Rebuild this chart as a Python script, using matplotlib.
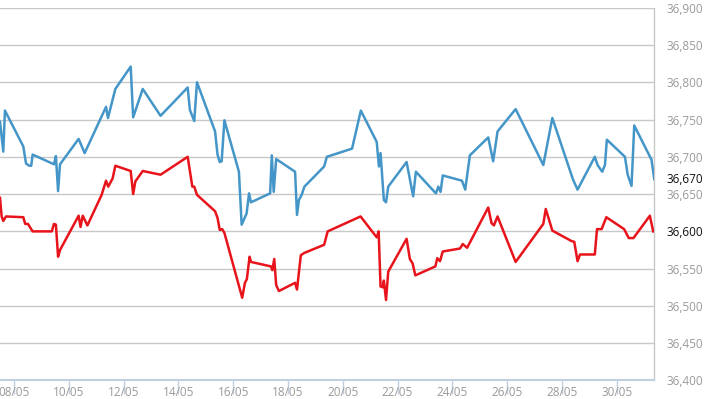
import matplotlib.pyplot as plt
import matplotlib.transforms as mtransforms
import numpy as np

# day of May (fractional) and price
blue_day = [7.49, 7.61, 7.67, 8.34, 8.44, 8.56, 8.63, 8.68, 9.46, 9.53, 9.61, 9.68,
            10.36, 10.58, 11.36, 11.43, 11.70, 12.26, 12.35, 12.70, 13.35, 14.34,
            14.42, 14.58, 14.68, 15.34, 15.43, 15.51, 15.58, 15.68, 16.21, 16.31,
            16.49, 16.58, 16.65, 17.35, 17.41, 17.48, 17.57, 18.26, 18.33, 18.40,
            18.50, 18.60, 19.32, 19.42, 20.34, 20.66, 21.24, 21.32, 21.38, 21.50,
            21.58, 21.66, 22.33, 22.57, 22.67, 23.40, 23.49, 23.57, 23.65, 24.35,
            24.47, 24.64, 25.31, 25.49, 25.65, 26.31, 27.32, 27.65, 28.29, 28.41,
            28.57, 29.20, 29.30, 29.47, 29.57, 29.64, 30.30, 30.40, 30.54, 30.64,
            31.27, 31.37]
blue_val = [36747, 36707, 36762, 36714, 36691, 36688, 36688, 36703, 36690, 36701, 36654, 36690,
            36724, 36705, 36767, 36752, 36791, 36821, 36753, 36791, 36755, 36793,
            36763, 36748, 36800, 36734, 36703, 36693, 36694, 36749, 36680, 36609,
            36624, 36651, 36639, 36651, 36702, 36653, 36697, 36680, 36622, 36642,
            36649, 36660, 36687, 36700, 36711, 36762, 36720, 36687, 36705, 36642,
            36639, 36660, 36693, 36647, 36680, 36651, 36660, 36653, 36675, 36668,
            36656, 36702, 36726, 36694, 36734, 36764, 36689, 36752, 36682, 36669,
            36656, 36700, 36689, 36680, 36689, 36723, 36700, 36676, 36661, 36742,
            36696, 36670]

red_day = [7.49, 7.55, 7.61, 7.71, 8.34, 8.41, 8.51, 8.68, 9.38, 9.46, 9.53, 9.61, 9.68,
           10.36, 10.43, 10.51, 10.68, 11.20, 11.36, 11.44, 11.60, 11.70, 12.26, 12.35,
           12.43, 12.70, 13.35, 14.34, 14.51, 14.58, 14.68, 15.34, 15.43, 15.51, 15.60,
           15.68, 16.33, 16.43, 16.50, 16.60, 16.65, 17.38, 17.43, 17.50, 17.57, 17.67,
           18.26, 18.33, 18.47, 18.59, 19.32, 19.45, 20.65, 21.24, 21.31, 21.38, 21.46,
           21.50, 21.58, 21.66, 22.33, 22.45, 22.55, 22.65, 23.38, 23.45, 23.55, 23.65,
           24.28, 24.38, 24.54, 25.31, 25.43, 25.52, 25.55, 25.65, 26.31, 27.32, 27.41,
           27.65, 28.35, 28.45, 28.57, 28.66, 29.20, 29.28, 29.45, 29.62, 30.27, 30.44,
           30.61, 31.21, 31.33]
red_val = [36645, 36620, 36614, 36620, 36619, 36610, 36610, 36600, 36600, 36610, 36609, 36566, 36575,
           36621, 36606, 36621, 36608, 36649, 36668, 36660, 36671, 36688, 36681, 36650,
           36667, 36681, 36676, 36700, 36660, 36660, 36649, 36627, 36618, 36602, 36603,
           36598, 36511, 36531, 36536, 36566, 36559, 36553, 36548, 36563, 36528, 36520,
           36531, 36522, 36568, 36571, 36582, 36600, 36620, 36592, 36600, 36526, 36525,
           36534, 36508, 36546, 36590, 36563, 36557, 36541, 36553, 36564, 36560, 36573,
           36577, 36583, 36578, 36632, 36611, 36608, 36611, 36620, 36559, 36610, 36630,
           36601, 36587, 36586, 36560, 36569, 36569, 36603, 36603, 36619, 36603, 36591,
           36591, 36621, 36600]

x_ticks = list(range(8, 31, 2))
x_labels = ['%02d/05' % d for d in x_ticks]
y_ticks = list(range(36400, 36901, 50))
last_blue = 36670
last_red = 36600

plt.rcParams['font.family'] = ['Open Sans', 'DejaVu Sans']

fig = plt.figure(figsize=(7.1, 3.99), dpi=100)
ax = fig.add_axes([0.0, 0.0464, 0.9215, 0.9343])

ax.plot(blue_day, blue_val, color='#4596c8', linewidth=1.8, zorder=3)
ax.plot(red_day, red_val, color='#e8141b', linewidth=1.8, zorder=3)

ax.set_xlim(7.49, 31.37)
ax.set_ylim(36400, 36900)

ax.set_yticks(y_ticks)
ax.set_yticklabels(['{:,}'.format(v) for v in y_ticks])
ax.yaxis.tick_right()
ax.tick_params(axis='y', length=0, pad=8.5, labelsize=8.5, labelcolor='#9a9a9a')
for lab, v in zip(ax.get_yticklabels(), y_ticks):
    if v == last_red:
        lab.set_color('#111111')

ax.set_xticks(x_ticks)
ax.set_xticklabels(x_labels)
ax.tick_params(axis='x', length=10, width=1, color='#c0d0e0', pad=-6,
               labelsize=8.5, labelcolor='#9a9a9a')

ax.grid(axis='y', color='#c8c8c8', linewidth=1)
ax.set_axisbelow(True)

for s in ['top', 'left']:
    ax.spines[s].set_visible(False)
ax.spines['right'].set_color('#c8c8c8')
ax.spines['right'].set_linewidth(1)
ax.spines['bottom'].set_color('#c0d0e0')
ax.spines['bottom'].set_linewidth(1.5)

# current value label for the blue series
trans = mtransforms.blended_transform_factory(ax.transAxes, ax.transData)
ax.annotate('{:,}'.format(last_blue), xy=(1.0, last_blue), xycoords=trans,
            xytext=(8.5, 0), textcoords='offset points', ha='left', va='center',
            fontsize=8.5, color='#111111', annotation_clip=False)

fig.savefig('out.png', dpi=100)
